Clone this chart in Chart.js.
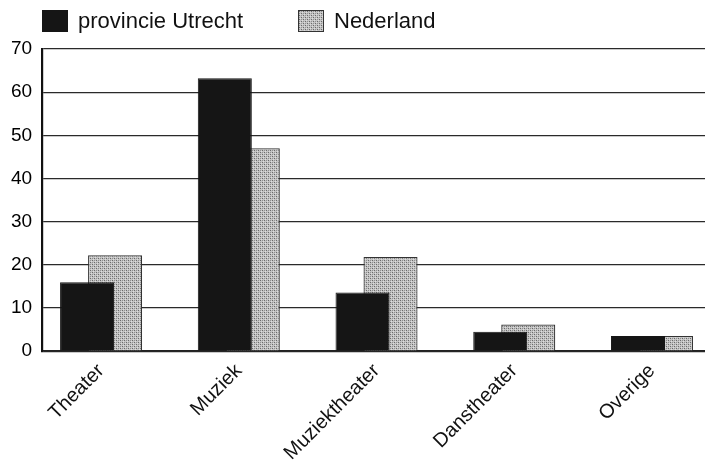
<!DOCTYPE html>
<html>
<head>
<meta charset="utf-8">
<script src="https://cdn.jsdelivr.net/npm/chart.js@4.4.1/dist/chart.umd.min.js"></script>
<style>
  body { margin: 0; background: #fff; }
  #wrap { position: relative; width: 705px; height: 465px; overflow: hidden; }
  #legend { position: absolute; top: 0; left: 0; width: 705px; height: 40px;
            font-family: "Liberation Sans", Arial, sans-serif; font-size: 22px; color: #111; }
  .item { position: absolute; top: 8px; display: flex; align-items: center; }
  .box { width: 26px; height: 22px; margin-right: 10px; box-sizing: border-box; }
</style>
</head>
<body>
<div id="wrap">
  <canvas id="chart" width="705" height="465"></canvas>
  <div id="legend"></div>
</div>
<script>
// DATA
const categories = ["Theater", "Muziek", "Muziektheater", "Danstheater", "Overige"];
const seriesNames = ["provincie Utrecht", "Nederland"];
const utrecht = [16, 63.2, 13.6, 4.5, 3.5];
const nederland = [22.2, 47, 21.8, 6.2, 3.5];
const yTicks = [0, 10, 20, 30, 40, 50, 60, 70];

// stippled grey fill like the print
function makeStipple() {
  const c = document.createElement("canvas");
  c.width = 4; c.height = 4;
  const g = c.getContext("2d");
  g.fillStyle = "#c4c4c4";
  g.fillRect(0, 0, 4, 4);
  g.fillStyle = "#6a6a6a";
  g.fillRect(0, 0, 1, 1);
  g.fillRect(2, 2, 1, 1);
  g.fillStyle = "#909090";
  g.fillRect(2, 0, 1, 1);
  g.fillRect(0, 2, 1, 1);
  g.fillStyle = "#dcdcdc";
  g.fillRect(1, 3, 1, 1);
  g.fillRect(3, 1, 1, 1);
  return c;
}
const stippleCanvas = makeStipple();
const ctx = document.getElementById("chart").getContext("2d");
const stipple = ctx.createPattern(stippleCanvas, "repeat");

const fills = ["#151515", stipple];
const borders = ["#151515", "#333"];

// LEGEND (html, so it can sit left of the axis like the print)
const legendPos = [42, 298];
const legend = document.getElementById("legend");
seriesNames.forEach((name, i) => {
  const item = document.createElement("div");
  item.className = "item";
  item.style.left = legendPos[i] + "px";
  const box = document.createElement("div");
  box.className = "box";
  if (i === 0) box.style.background = fills[0];
  else {
    box.style.backgroundImage = `url(${stippleCanvas.toDataURL()})`;
    box.style.border = "1px solid #333";
  }
  const txt = document.createElement("span");
  txt.textContent = name;
  item.appendChild(box);
  item.appendChild(txt);
  legend.appendChild(item);
});

const font = { family: "'Liberation Sans', Arial, sans-serif", size: 19 };

new Chart(ctx, {
  type: "bar",
  data: {
    datasets: [
      { label: seriesNames[0], data: utrecht.map((v, i) => ({ x: i, y: v })),
        backgroundColor: fills[0], borderColor: borders[0], borderWidth: 1 },
      { label: seriesNames[1], data: nederland.map((v, i) => ({ x: i, y: v })),
        backgroundColor: fills[1], borderColor: borders[1], borderWidth: 1.2 }
    ]
  },
  options: {
    responsive: false,
    animation: false,
    categoryPercentage: 0.4065,
    barPercentage: 1.93,
    // the print crops the longest label at the bottom edge
    layout: { padding: { top: 49, left: 1, right: 0, bottom: -7 } },
    plugins: { legend: { display: false }, tooltip: { enabled: false } },
    scales: {
      x: {
        type: "linear",
        offset: false,
        min: -0.428,
        max: 4.385,
        afterFit: s => { s.height -= 1; },
        grid: { display: false, drawTicks: false },
        border: { display: true, color: "#222", width: 1.5 },
        ticks: {
          stepSize: 1,
          includeBounds: false,
          autoSkip: false,
          maxRotation: 45,
          minRotation: 45,
          padding: 8,
          color: "#111",
          font: { family: font.family, size: 20 },
          callback: v => categories[v] ?? ""
        }
      },
      y: {
        min: 0,
        max: yTicks[yTicks.length - 1],
        afterBuildTicks: s => { s.ticks = yTicks.map(v => ({ value: v })); },
        grid: { color: "#2a2a2a", lineWidth: 1.3, drawTicks: false },
        border: { display: true, color: "#111", width: 2.2 },
        ticks: { padding: 10, color: "#000", font: font }
      }
    }
  }
});
</script>
</body>
</html>
